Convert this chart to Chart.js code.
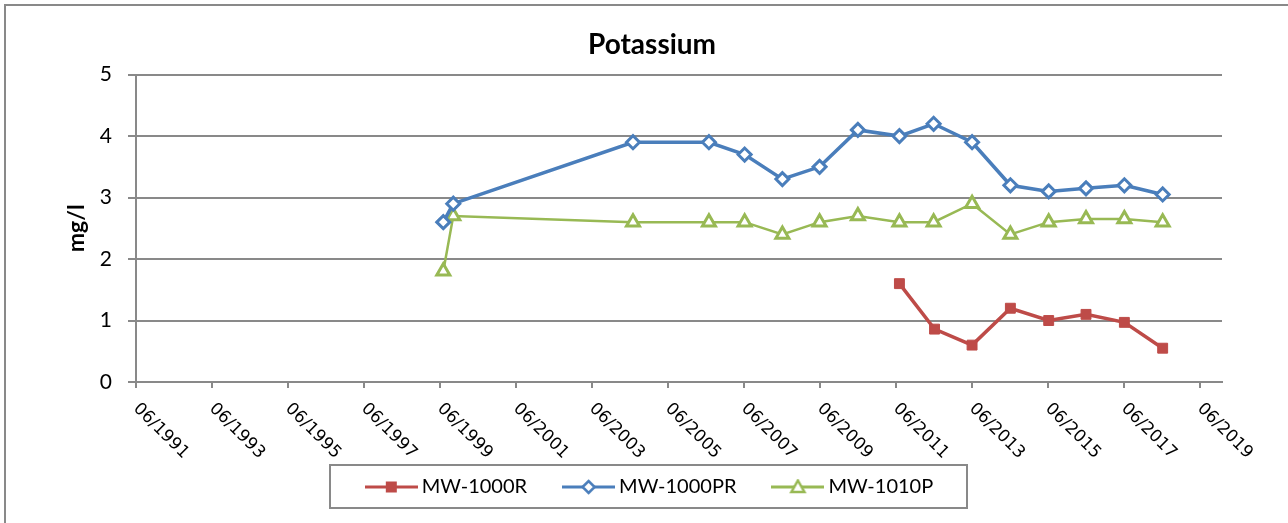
<!DOCTYPE html>
<html>
<head>
<meta charset="utf-8">
<script src="https://cdn.jsdelivr.net/npm/chart.js@4.4.1/dist/chart.umd.min.js"></script>
<style>
  html, body { margin: 0; padding: 0; background: #fff; }
  canvas { display: block; }
</style>
</head>
<body>
<canvas id="chart" width="1288" height="523"></canvas>
<script>
// tick labels on the date axis (month/year)
const tickLabels = ['06/1991', '06/1993', '06/1995', '06/1997', '06/1999', '06/2001', '06/2003',
  '06/2005', '06/2007', '06/2009', '06/2011', '06/2013', '06/2015', '06/2017', '06/2019'];
const axisStart = '1991-06-01';
const axisEnd = '2019-12-31';

// sample dates
const datesPR = ['1999-07-03', '1999-10-07', '2004-06-30', '2006-06-30', '2007-06-08', '2008-06-05',
  '2009-05-29', '2010-06-01', '2011-07-05', '2012-05-29', '2013-06-03', '2014-06-06',
  '2015-06-09', '2016-06-02', '2017-06-06', '2018-06-09'];
const datesP = datesPR;
const datesR = ['2011-07-05', '2012-06-07', '2013-06-03', '2014-06-06', '2015-06-09', '2016-06-02',
  '2017-06-06', '2018-06-09'];

// potassium, mg/l
const valuesR = [1.6, 0.86, 0.6, 1.2, 1.0, 1.1, 0.97, 0.55];
const valuesPR = [2.6, 2.9, 3.9, 3.9, 3.7, 3.3, 3.5, 4.1, 4.0, 4.2, 3.9, 3.2, 3.1, 3.15, 3.2, 3.05];
const valuesP = [1.8, 2.7, 2.6, 2.6, 2.6, 2.4, 2.6, 2.7, 2.6, 2.6, 2.9, 2.4, 2.6, 2.65, 2.65, 2.6];

const GREY = '#898989';
const RED = '#BE4B48';
const BLUE = '#4A7EBB';
const GREEN = '#98B954';

function toYear(s) {
  const [y, m, d] = s.split('-').map(Number);
  const start = Date.UTC(y, 0, 1);
  const end = Date.UTC(y + 1, 0, 1);
  return y + (Date.UTC(y, m - 1, d) - start) / (end - start);
}

function labelToDate(lbl) {
  const [m, y] = lbl.split('/');
  return y + '-' + m + '-01';
}

const tickValues = tickLabels.map(l => toYear(labelToDate(l)));

function points(dates, values) {
  return dates.map((d, i) => ({ x: toYear(d), y: values[i] }));
}

// small line + marker pictures for the legend
function makeIcon(color, kind) {
  const c = document.createElement('canvas');
  c.width = 53;
  c.height = 16;
  const g = c.getContext('2d');
  g.strokeStyle = color;
  g.lineWidth = 3;
  g.beginPath();
  g.moveTo(0, 8);
  g.lineTo(53, 8);
  g.stroke();
  const cx = 26.5, cy = 8;
  if (kind === 'rect') {
    g.fillStyle = color;
    g.fillRect(cx - 5.5, cy - 5.5, 11, 11);
  } else if (kind === 'diamond') {
    g.beginPath();
    g.moveTo(cx - 6, cy);
    g.lineTo(cx, cy - 6);
    g.lineTo(cx + 6, cy);
    g.lineTo(cx, cy + 6);
    g.closePath();
    g.fillStyle = '#fff';
    g.fill();
    g.lineWidth = 2.5;
    g.stroke();
  } else {
    g.beginPath();
    g.moveTo(cx, cy - 6.5);
    g.lineTo(cx + 6.5, cy + 5);
    g.lineTo(cx - 6.5, cy + 5);
    g.closePath();
    g.fillStyle = '#fff';
    g.fill();
    g.lineWidth = 2.5;
    g.stroke();
  }
  return c;
}

const legendIcons = [makeIcon(RED, 'rect'), makeIcon(BLUE, 'diamond'), makeIcon(GREEN, 'triangle')];

// outer frame, legend box and the slanted date labels
const decorations = {
  id: 'decorations',
  beforeDraw(chart) {
    const ctx = chart.ctx;
    ctx.save();
    ctx.strokeStyle = GREY;
    ctx.lineWidth = 2;
    ctx.strokeRect(5, 5, 1400, 700);
    ctx.restore();
  },
  afterDraw(chart) {
    const ctx = chart.ctx;
    const hb = chart.legend.legendHitBoxes;
    if (hb && hb.length) {
      const first = hb[0], last = hb[hb.length - 1];
      ctx.save();
      ctx.strokeStyle = GREY;
      ctx.lineWidth = 2;
      const left = Math.round(first.left - 41);
      const right = Math.round(last.left + last.width + 34);
      const top = Math.round(first.top - 12);
      const bottom = Math.round(first.top + first.height + 11);
      ctx.strokeRect(left, top, right - left, bottom - top);
      ctx.restore();
    }
    const x = chart.scales.x;
    ctx.save();
    ctx.font = '17px "DejaVu Sans"';
    ctx.fillStyle = '#000';
    ctx.textAlign = 'left';
    ctx.textBaseline = 'middle';
    tickLabels.forEach((lbl, i) => {
      const px = x.getPixelForValue(tickValues[i]);
      ctx.save();
      ctx.translate(px, x.top + 24);
      ctx.rotate(Math.PI / 4);
      ctx.fillText(lbl, 0, 0);
      ctx.restore();
    });
    ctx.restore();
  }
};

new Chart(document.getElementById('chart'), {
  type: 'line',
  data: {
    datasets: [
      {
        label: 'MW-1000R',
        data: points(datesR, valuesR),
        borderColor: RED,
        backgroundColor: RED,
        borderWidth: 3.5,
        pointStyle: 'rect',
        pointRadius: 7,
        pointBorderWidth: 1,
        pointBackgroundColor: RED,
        pointBorderColor: RED
      },
      {
        label: 'MW-1000PR',
        data: points(datesPR, valuesPR),
        borderColor: BLUE,
        backgroundColor: BLUE,
        borderWidth: 3.5,
        pointStyle: 'rectRot',
        pointRadius: 6.5,
        pointBorderWidth: 3,
        pointBackgroundColor: '#fff',
        pointBorderColor: BLUE
      },
      {
        label: 'MW-1010P',
        data: points(datesP, valuesP),
        borderColor: GREEN,
        backgroundColor: GREEN,
        borderWidth: 2.5,
        pointStyle: 'triangle',
        pointRadius: 7.5,
        pointBorderWidth: 3,
        pointBackgroundColor: '#fff',
        pointBorderColor: GREEN
      }
    ]
  },
  options: {
    responsive: false,
    animation: false,
    devicePixelRatio: 1,
    layout: { padding: { left: 16, right: 0, top: 0, bottom: 16 } },
    plugins: {
      title: {
        display: true,
        text: 'Potassium',
        color: '#000',
        font: { family: 'Lato', size: 28, weight: 'bold' },
        padding: { top: 28, bottom: 13 }
      },
      legend: {
        position: 'bottom',
        labels: {
          color: '#000',
          font: { family: 'Lato', size: 20 },
          usePointStyle: true,
          pointStyleWidth: 41,
          padding: 41,
          generateLabels(chart) {
            const items = Chart.defaults.plugins.legend.labels.generateLabels(chart);
            items.forEach((it, i) => { it.pointStyle = legendIcons[i]; });
            return items;
          }
        }
      },
      tooltip: { enabled: false }
    },
    scales: {
      x: {
        type: 'linear',
        min: toYear(axisStart),
        max: toYear(axisEnd),
        afterBuildTicks(scale) {
          scale.ticks = tickValues.map(v => ({ value: v }));
        },
        afterFit(scale) { scale.height = 54; },
        ticks: { display: false },
        grid: { drawOnChartArea: false, drawTicks: true, tickLength: 6, color: GREY, lineWidth: 2 },
        border: { display: true, color: GREY, width: 2 }
      },
      y: {
        min: 0,
        max: 5,
        afterFit(scale) { scale.width = 120; },
        ticks: {
          stepSize: 1,
          color: '#000',
          padding: 16,
          font: { family: 'Lato', size: 21 }
        },
        grid: { color: GREY, lineWidth: 2, tickLength: 8 },
        border: { display: true, color: GREY, width: 2 },
        title: {
          display: true,
          text: 'mg/l',
          color: '#000',
          font: { family: 'Lato', size: 23, weight: 'bold' },
          padding: { top: 47, bottom: 0 }
        }
      },
      y2: {
        position: 'right',
        display: true,
        afterFit(scale) { scale.width = 66; },
        ticks: { display: false },
        grid: { display: false },
        border: { display: false }
      }
    }
  },
  plugins: [decorations]
});
</script>
</body>
</html>
